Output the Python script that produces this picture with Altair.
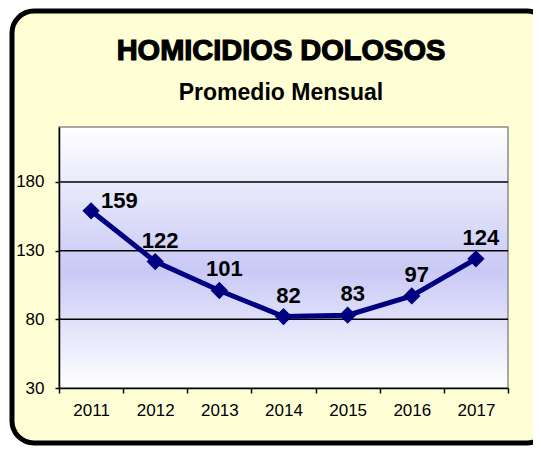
import altair as alt
import pandas as pd

# ---- data ----
years = ["2011", "2012", "2013", "2014", "2015", "2016", "2017"]
values = [159, 122, 101, 82, 83, 97, 124]
y_ticks = [30, 80, 130, 180]
y_domain = [30, 220]
title_text = "HOMICIDIOS DOLOSOS"
subtitle_text = "Promedio Mensual"

df = pd.DataFrame({"year": years, "value": values})
grid_df = pd.DataFrame({"value": [v for v in y_ticks if v > y_domain[0]]})
one = pd.DataFrame({"k": [0]})

W, H = 449, 261
FONT = "Liberation Sans"
NAVY = "#000080"

y_scale = alt.Scale(domain=y_domain, nice=False, zero=False)
x_scale = alt.Scale(type="band", paddingInner=0, paddingOuter=0)

x_axis = alt.Axis(
    title=None, tickBand="extent", labelAngle=0, tickSize=5, labelPadding=9,
    labelFont=FONT, labelFontSize=17, labelColor="black",
    domainColor="black", domainWidth=1.5, tickColor="black", tickWidth=1.5,
    grid=False, zindex=1,
)
y_axis = alt.Axis(
    title=None, values=y_ticks, tickSize=4, labelPadding=11,
    labelFont=FONT, labelFontSize=17, labelColor="black",
    domainColor="black", domainWidth=1.5, tickColor="black", tickWidth=1.5,
    grid=False, zindex=1,
)

X = alt.X("year:N", sort=years, scale=x_scale, axis=x_axis, bandPosition=0.5)
Y = alt.Y("value:Q", scale=y_scale, axis=y_axis)

# outer rounded frame (decoration)
frame = alt.Chart(one).mark_rect(
    cornerRadius=22, fill="#FFFFD6", stroke="black", strokeWidth=5
).encode(
    x=alt.value(-47), x2=alt.value(490), y=alt.value(-116), y2=alt.value(316)
)

# plot-area gradient background
plot_bg = alt.Chart(one).mark_rect(
    fill=alt.LinearGradient(
        gradient="linear", x1=0, x2=0, y1=0, y2=1,
        stops=[
            alt.GradientStop(color="#FFFFFF", offset=0),
            alt.GradientStop(color="#C9C9F6", offset=0.55),
            alt.GradientStop(color="#FFFFFF", offset=1),
        ],
    ),
    stroke="#8C8C8C", strokeWidth=1.5,
).encode(x=alt.value(0), x2=alt.value(W), y=alt.value(0), y2=alt.value(H))

grid = alt.Chart(grid_df).mark_rule(color="black", strokeWidth=1.5).encode(y=Y)

base = alt.Chart(df).encode(x=X, y=Y)
line = base.mark_line(color=NAVY, strokeWidth=5)
points = base.mark_point(shape="diamond", size=300, filled=True, color=NAVY, opacity=1)

labels = base.transform_filter(alt.datum.year != years[0]).mark_text(
    font=FONT, fontSize=22, fontWeight="bold", color="black",
    align="center", baseline="alphabetic", dx=5, dy=-14,
).encode(text="value:Q")
first_label = base.transform_filter(alt.datum.year == years[0]).mark_text(
    font=FONT, fontSize=22, fontWeight="bold", color="black",
    align="left", baseline="alphabetic", dx=10, dy=-3,
).encode(text="value:Q")

title = alt.Chart(pd.DataFrame({"t": [title_text]})).mark_text(
    font=FONT, fontSize=29, fontWeight="bold", color="black",
    stroke="black", strokeWidth=1.2, align="center", baseline="alphabetic",
).encode(text="t:N", x=alt.value(222), y=alt.value(-67))
subtitle = alt.Chart(pd.DataFrame({"t": [subtitle_text]})).mark_text(
    font=FONT, fontSize=23, fontWeight="bold", color="black",
    align="center", baseline="alphabetic",
).encode(text="t:N", x=alt.value(222), y=alt.value(-27))

chart = alt.layer(
    frame, plot_bg, grid, line, points, labels, first_label, title, subtitle
).properties(
    width=W, height=H,
    autosize=alt.AutoSizeParams(type="none"),
    padding={"left": 51, "top": 119, "right": 25, "bottom": 59},
    background="white",
).configure_view(strokeWidth=0)

chart.save("out.html", embed_options={"renderer": "svg", "actions": False})
